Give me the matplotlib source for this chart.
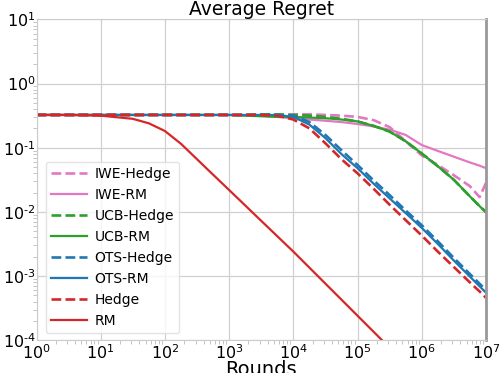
import numpy as np
import matplotlib
matplotlib.use("Agg")
import matplotlib.pyplot as plt
from matplotlib.ticker import FuncFormatter

nan = np.nan

rounds = [1, 3.16, 10, 31.6, 56.2, 100, 178, 316, 562, 1000, 1778, 3162, 5623,
          1e4, 17783, 31623, 56234, 1e5, 177828, 316228, 562341, 1e6,
          1778279, 3162278, 5623413, 7943282, 1e7]

iwe_hedge = [0.324] * 13 + [0.331, 0.331, 0.324, 0.316, 0.302, 0.269, 0.209, 0.126,
                            0.0759, 0.0537, 0.0372, 0.0251, 0.0170, 0.0282]
iwe_rm = [0.324] * 10 + [0.320, 0.316, 0.302, 0.288, 0.275, 0.263, 0.251, 0.234, 0.214,
                         0.191, 0.158, 0.110, 0.0891, 0.0724, 0.0589, 0.0525, 0.0479]
ucb_hedge = [0.324] * 11 + [0.331, 0.331, 0.324, 0.316, 0.302, 0.282, 0.257, 0.219, 0.178,
                            0.126, 0.0813, 0.0513, 0.0316, 0.0174, 0.0123, 0.0100]
ucb_rm = [0.324] * 10 + [0.316, 0.309, 0.302, 0.302, 0.295, 0.288, 0.275, 0.257, 0.219,
                         0.178, 0.126, 0.0813, 0.0513, 0.0316, 0.0174, 0.0123, 0.00977]
ots_hedge = [0.324] * 13 + [0.316, 0.251, 0.158, 0.0912, 0.0537, 0.0309, 0.0182, 0.0105,
                            0.00617, 0.00347, 0.00191, 0.00107, 0.000759, 0.000603]
ots_rm = [0.324] * 13 + [0.302, 0.229, 0.141, 0.0794, 0.0479, 0.0275, 0.0162, 0.00955,
                         0.00562, 0.00316, 0.00174, 0.000977, 0.000692, 0.000550]
hedge = [0.324] * 12 + [0.316, 0.275, 0.200, 0.117, 0.0661, 0.0398, 0.0229, 0.0129,
                        0.00741, 0.00427, 0.00240, 0.00138, 0.000794, 0.000575, 0.000457]
rm = [0.324, 0.324, 0.316, 0.282, 0.240, 0.182, 0.115, 0.0661, 0.0380, 0.0219, 0.0126,
      0.00724, 0.00417, 0.00240, 0.00135, 0.000759, 0.000427, 0.000240, 0.000135,
      0.0000759] + [nan] * 7

series = [
    ("IWE-Hedge", iwe_hedge, "#e377c2", "--"),
    ("IWE-RM", iwe_rm, "#e377c2", "-"),
    ("UCB-Hedge", ucb_hedge, "#2ca02c", "--"),
    ("UCB-RM", ucb_rm, "#2ca02c", "-"),
    ("OTS-Hedge", ots_hedge, "#1f77b4", "--"),
    ("OTS-RM", ots_rm, "#1f77b4", "-"),
    ("Hedge", hedge, "#d62728", "--"),
    ("RM", rm, "#d62728", "-"),
]


def pow10(v, pos):
    e = int(round(np.log10(v)))
    if e < 0:
        # narrow hyphen instead of the wide math minus
        return "$\\mathdefault{10^{\u2010%d}}$" % (-e)
    return r"$\mathdefault{10^{%d}}$" % e


fig = plt.figure(figsize=(5.0, 3.73), dpi=100)
ax = fig.add_axes([0.073, 0.088, 0.899, 0.860])

for label, vals, color, ls in series:
    lw = 1.9 if ls == "--" else 1.6
    ax.loglog(rounds, vals, color=color, linestyle=ls, linewidth=lw, label=label)

ax.set_xlim(1, 1e7)
ax.set_ylim(1e-4, 1e1)
ax.xaxis.set_major_formatter(FuncFormatter(pow10))
ax.yaxis.set_major_formatter(FuncFormatter(pow10))
ax.grid(True, which="major", color="#d0d0d0", linewidth=0.9)
ax.tick_params(which="both", labelsize=11.5, color="#bbbbbb", length=3, pad=2)
ax.tick_params(which="major", length=0)
ax.tick_params(axis="y", which="major", pad=0.5)
for name in ["top", "left", "bottom"]:
    ax.spines[name].set_color("#cccccc")
ax.spines["right"].set_color("#999999")
ax.spines["right"].set_linewidth(2)

ax.set_title("Average Regret", fontsize=13.5, pad=-1)
ax.set_xlabel("Rounds", fontsize=14, labelpad=-1)
ax.legend(loc="lower left", fontsize=10, handlelength=2.6, handletextpad=0.5,
          labelspacing=0.5, frameon=True, edgecolor="#dddddd",
          bbox_to_anchor=(0.005, 0.0))

fig.savefig("out.png", dpi=100)
